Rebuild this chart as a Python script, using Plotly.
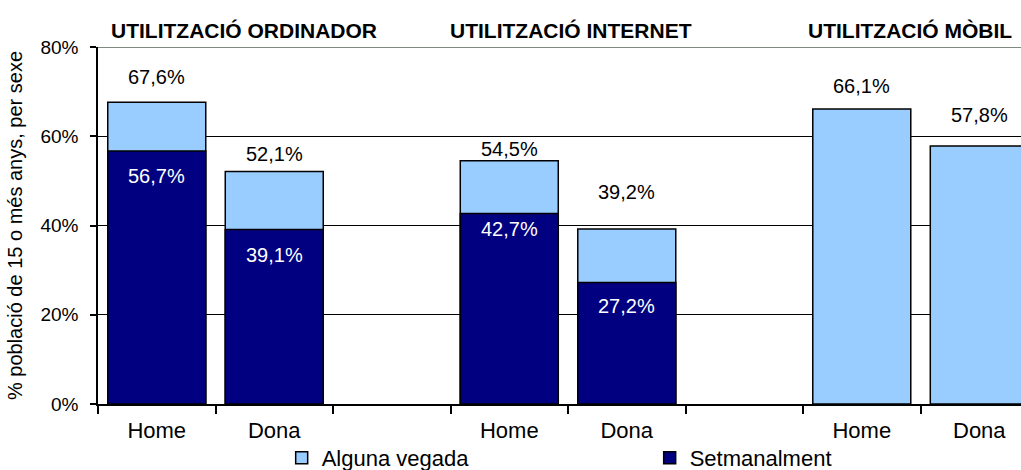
import plotly.graph_objects as go

# ---- data ----
CATEGORIES = ["Home", "Dona", " ", "Home\u200b", "Dona\u200b", "  ", "Home\u200b\u200b", "Dona\u200b\u200b"]
ALGUNA_CATS = ["Home", "Dona", "Home\u200b", "Dona\u200b", "Home\u200b\u200b", "Dona\u200b\u200b"]
ALGUNA_VEGADA = [67.6, 52.1, 54.5, 39.2, 66.1, 57.8]
SETMANAL_CATS = ["Home", "Dona", "Home\u200b", "Dona\u200b"]
SETMANALMENT = [56.7, 39.1, 42.7, 27.2]
Y_TICKS = [0, 20, 40, 60, 80]
GROUP_TITLES = ["UTILITZACIÓ ORDINADOR", "UTILITZACIÓ INTERNET", "UTILITZACIÓ MÒBIL"]

# ---- styling / layout offsets ----
FONT = "Arial, 'Liberation Sans', sans-serif"
LIGHT = "#99CCFF"
DARK = "#000080"
TOTAL_LABEL_SHIFT = [25, 18, 12, 37, 23, 31]
WEEKLY_LABEL_SHIFT = [-25, -25, -16, -23]
TITLE_X = [0.012, 0.379, 0.767]


def fmt(v):
    return f"{v:.1f}".replace(".", ",") + "%"


fig = go.Figure()
fig.add_trace(go.Bar(
    x=ALGUNA_CATS, y=ALGUNA_VEGADA, name="Alguna vegada",
    marker=dict(color=LIGHT, line=dict(color="black", width=1.5)),
))
fig.add_trace(go.Bar(
    x=SETMANAL_CATS, y=SETMANALMENT, name="Setmanalment",
    marker=dict(color=DARK, line=dict(color="black", width=1.5)),
))

annotations = []
for c, v, s in zip(ALGUNA_CATS, ALGUNA_VEGADA, TOTAL_LABEL_SHIFT):
    annotations.append(dict(x=c, y=v, xref="x", yref="y", text=fmt(v), showarrow=False,
                            yanchor="middle", yshift=s, font=dict(size=20, color="black", family=FONT)))
for c, v, s in zip(SETMANAL_CATS, SETMANALMENT, WEEKLY_LABEL_SHIFT):
    annotations.append(dict(x=c, y=v, xref="x", yref="y", text=fmt(v), showarrow=False,
                            yanchor="middle", yshift=s, font=dict(size=20, color="white", family=FONT)))
for t, xp in zip(GROUP_TITLES, TITLE_X):
    annotations.append(dict(x=xp, y=1.047, xref="paper", yref="paper", text=f"<b>{t}</b>",
                            showarrow=False, xanchor="left", yanchor="middle",
                            font=dict(size=21, color="black", family=FONT)))

fig.update_layout(
    width=1021, height=470,
    margin=dict(l=98, r=0, t=47, b=66, autoexpand=False),
    paper_bgcolor="white", plot_bgcolor="white",
    barmode="overlay", bargap=0.166,
    font=dict(family=FONT, size=20, color="black"),
    annotations=annotations,
    legend=dict(orientation="h", x=0.199, xanchor="left", y=-0.151, yanchor="middle",
                entrywidth=323, entrywidthmode="pixels",
                font=dict(size=22, family=FONT), bgcolor="rgba(0,0,0,0)"),
    shapes=[dict(type="line", xref="paper", yref="y", x0=0, x1=1, y0=80, y1=80,
                 line=dict(color="#808a80", width=2), layer="above")],
)
fig.update_xaxes(
    type="category", categoryorder="array", categoryarray=CATEGORIES,
    range=[-0.5, 7.355], tickson="boundaries", automargin=False,
    showline=True, linecolor="black", linewidth=1.5,
    ticks="outside", ticklen=8, tickwidth=1.5, tickcolor="black",
    tickfont=dict(size=22, family=FONT), ticklabelstandoff=6,
    showgrid=False, zeroline=False, fixedrange=True,
)
fig.update_yaxes(
    range=[0, 80], tickmode="array", tickvals=Y_TICKS, automargin=False,
    ticktext=[f"{v}%" for v in Y_TICKS],
    showline=True, linecolor="black", linewidth=1.5,
    ticks="outside", ticklen=6, tickwidth=1.5, tickcolor="black",
    tickfont=dict(size=19, family=FONT), ticklabelstandoff=8,
    showgrid=True, gridcolor="black", gridwidth=1, zeroline=False,
    title=dict(text="% població de 15 o més anys, per sexe", font=dict(size=20, family=FONT), standoff=12),
    fixedrange=True,
)

fig.write_html("out.html", config={"displayModeBar": False},
               post_script="document.body.style.margin='0px';")
